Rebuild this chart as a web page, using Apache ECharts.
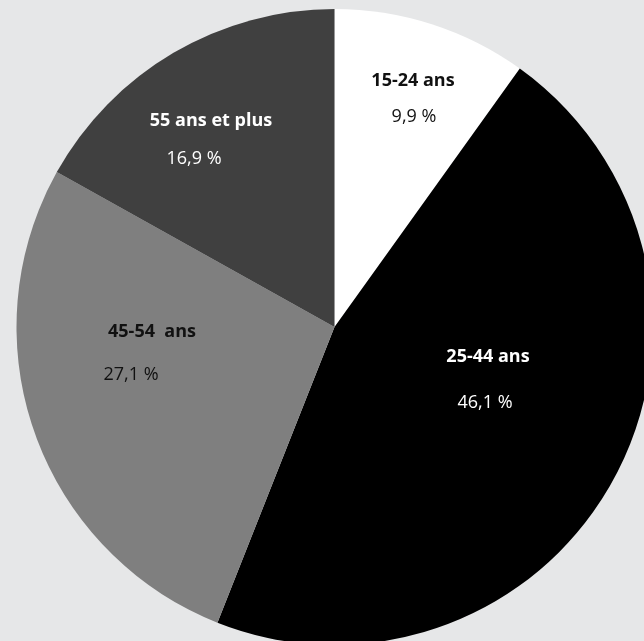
<!DOCTYPE html>
<html>
<head>
<meta charset="utf-8">
<script src="https://cdn.jsdelivr.net/npm/echarts@6/dist/echarts.min.js"></script>
<style>
html,body{margin:0;padding:0;background:#e6e7e8;}
#chart{width:644px;height:641px;}
</style>
</head>
<body>
<div id="chart"></div>
<script>
// Data
const categories = ['15-24 ans', '25-44 ans', '45-54  ans', '55 ans et plus'];
const values = [9.9, 46.1, 27.1, 16.9];
const valueLabels = ['9,9 %', '46,1 %', '27,1 %', '16,9 %'];

// Styling / layout (not data)
const sliceColors = ['#ffffff', '#000000', '#7f7f7f', '#404040'];
const textColors = ['#111111', '#ffffff', '#111111', '#ffffff'];
const labelAnchors = [[413, 99], [488, 380], [152, 353], [211, 140]];
const lineGaps = [36, 46, 43, 38];
const valueShift = [1, -3, -21, -17];

const fontFamily = '"Open Sans", "Noto Sans", sans-serif';

const data = categories.map((name, i) => ({
  name: name,
  value: values[i],
  itemStyle: { color: sliceColors[i] },
  label: {
    formatter: '{n|' + name + '}\n{v|' + valueLabels[i] + '}',
    rich: {
      n: { fontWeight: 'bold', fontSize: 18, color: textColors[i], fontFamily: fontFamily, lineHeight: lineGaps[i] },
      v: { fontSize: 18, color: textColors[i], fontFamily: fontFamily, lineHeight: lineGaps[i],
           padding: valueShift[i] < 0 ? [0, -2 * valueShift[i], 0, 0] : [0, 0, 0, 2 * valueShift[i]] }
    }
  }
}));

const chart = echarts.init(document.getElementById('chart'));
chart.setOption({
  backgroundColor: '#e6e7e8',
  animation: false,
  series: [{
    type: 'pie',
    center: [334.5, 327],
    radius: 318,
    startAngle: 90,
    clockwise: true,
    avoidLabelOverlap: false,
    label: { show: true, position: 'inside', align: 'center' },
    labelLine: { show: false },
    labelLayout: function (p) {
      const a = labelAnchors[p.dataIndex];
      return { x: a[0], y: a[1], align: 'center', verticalAlign: 'middle' };
    },
    itemStyle: { borderWidth: 0 },
    emphasis: { disabled: true },
    data: data
  }]
});
</script>
</body>
</html>
